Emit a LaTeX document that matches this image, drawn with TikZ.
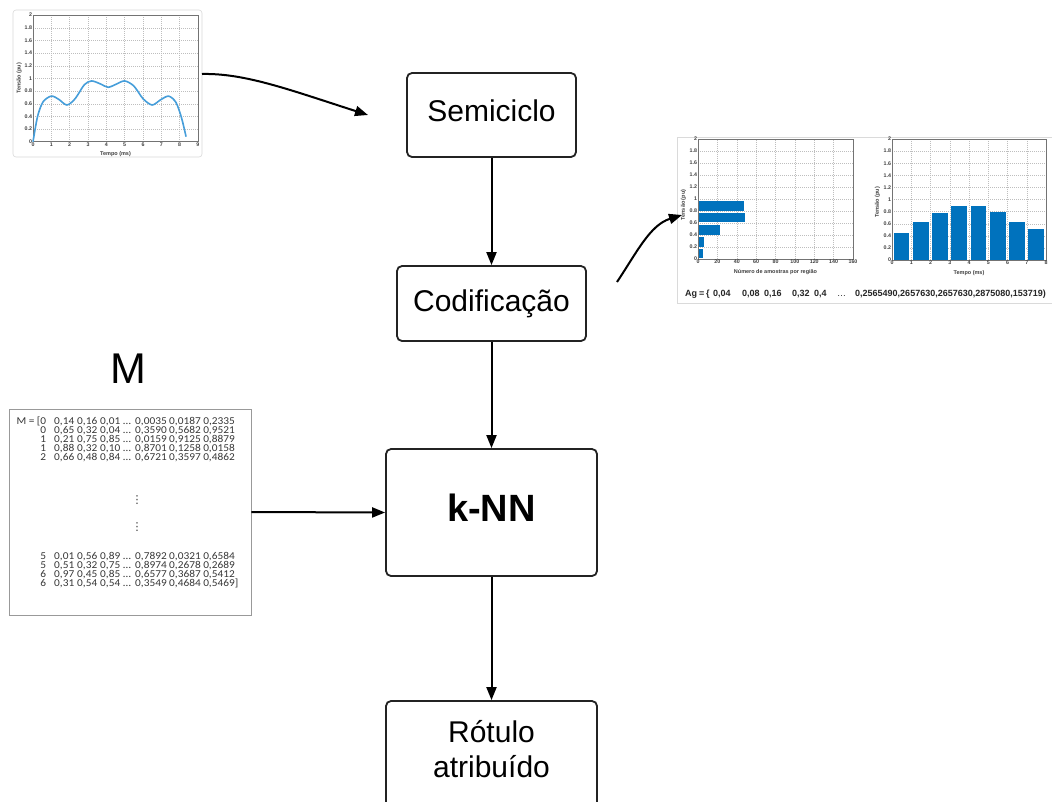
\documentclass[tikz,border=0pt]{standalone}
\usepackage{fontspec}
\setmainfont{Liberation Sans}
\newfontfamily\calib[FakeStretch=1.08]{Carlito}
\newfontfamily\djv{DejaVu Sans}
\usetikzlibrary{arrows.meta}
\definecolor{mblue}{RGB}{0,114,189}
\definecolor{lblue}{RGB}{70,158,218}
\definecolor{boxline}{RGB}{35,35,35}
\definecolor{framegray}{RGB}{218,218,218}
\definecolor{gridgray}{RGB}{190,190,190}
\definecolor{mtext}{RGB}{55,55,55}
\newcommand\matrow[7]{\makebox[0pt][r]{#1}\hspace{8pt}\makebox[23pt][l]{#2}\makebox[23pt][l]{#3}\makebox[23pt][l]{#4}\makebox[12pt][l]{\ldots}\makebox[34pt][l]{#5}\makebox[34pt][l]{#6}#7}
\begin{document}
\begin{tikzpicture}[x=1pt,y=-1pt,
  flowbox/.style={draw=boxline, line width=1.8pt, rounded corners=5pt, inner sep=0pt, font=\fontsize{30}{35}\selectfont},
  conn/.style={draw=black, line width=2pt, -{Triangle[length=13pt,width=10pt]}},
  gridln/.style={draw=gridgray, line width=0.35pt, dash pattern=on 1pt off 1pt},
  axframe/.style={draw=black!55, line width=0.5pt},
  tklab/.style={font=\fontsize{5.3}{6}\selectfont\bfseries, text=black!75, inner sep=0.8pt},
  axlab/.style={font=\fontsize{5.5}{6.5}\selectfont\bfseries, text=black!75, inner sep=0pt},
  frame/.style={draw=framegray, line width=0.6pt, inner sep=0pt},
  mrowst/.style={font=\calib\fontsize{10.5}{11}\selectfont, text=mtext, inner sep=0pt, anchor=base west}]
\useasboundingbox[fill=white] (0,0) rectangle (1052,801);

% ---------- top-left plot ----------
\node[frame, rounded corners=3pt, minimum width=189pt, minimum height=147pt] (plotA) at (107.5,83.5) {};
\begin{scope}[shift={(33pt,-141.7pt)}, x=18.33pt, y=63.3pt]
  \foreach \i in {1,...,8} \draw[gridln] (\i,0) -- (\i,2);
  \foreach \j in {0.2,0.4,0.6,0.8,1.0,1.2,1.4,1.6,1.8} \draw[gridln] (0,\j) -- (9,\j);
  \draw[axframe] (0,0) rectangle (9,2);
  \foreach \i in {0,...,9} \node[tklab, anchor=north] (pAx\i) at (\i,0) {\i};
  \foreach \v/\t [count=\k] in {0/0,0.2/0.2,0.4/0.4,0.6/0.6,0.8/0.8,1/1,1.2/1.2,1.4/1.4,1.6/1.6,1.8/1.8,2/2}
    \node[tklab, anchor=east] (pAy\k) at (0,\v) {\t};
  \node[axlab, rotate=90] (pAyl) at (-0.75,1) {Tensão (pu)};
  \node[axlab] (pAxl) at (4.5,-0.2) {Tempo (ms)};
  \draw[lblue, line width=1.6pt] plot[smooth] coordinates {(0,0.0) (0.25,0.4) (0.55,0.63) (1.0,0.72) (1.4,0.67) (1.85,0.58) (2.3,0.68) (2.8,0.9) (3.2,0.96) (3.7,0.91) (4.1,0.86) (4.55,0.91) (5.0,0.96) (5.5,0.88) (6.0,0.68) (6.5,0.58) (6.95,0.66) (7.4,0.72) (7.8,0.62) (8.1,0.38) (8.35,0.08)};
\end{scope}

% ---------- right plots ----------
\node[frame, minimum width=375pt, minimum height=166pt] (plotsBC) at (864.5,220) {};
\begin{scope}[shift={(698pt,-259pt)}, x=0.96875pt, y=60pt]
  \foreach \i in {20,40,...,140} \draw[gridln] (\i,0) -- (\i,2);
  \foreach \j in {0.2,0.4,0.6,0.8,1.0,1.2,1.4,1.6,1.8} \draw[gridln] (0,\j) -- (160,\j);
  \fill[mblue] (0,0.01) rectangle (5,0.17);
  \fill[mblue] (0,0.20) rectangle (6,0.36);
  \fill[mblue] (0,0.40) rectangle (22.7,0.57);
  \fill[mblue] (0,0.61) rectangle (48,0.76);
  \fill[mblue] (0,0.80) rectangle (47.5,0.97);
  \draw[axframe] (0,0) rectangle (160,2);
  \foreach \i in {0,20,...,160} \node[tklab, anchor=north] (pBx\i) at (\i,0) {\i};
  \foreach \v/\t [count=\k] in {0/0,0.2/0.2,0.4/0.4,0.6/0.6,0.8/0.8,1/1,1.2/1.2,1.4/1.4,1.6/1.6,1.8/1.8,2/2}
    \node[tklab, anchor=east] (pBy\k) at (0,\v) {\t};
  \node[axlab, rotate=90] (pByl) at (-15,0.9) {Tensão (pu)};
  \node[axlab] (pBxl) at (80,-0.22) {Número de amostras por região};
\end{scope}
\begin{scope}[shift={(892pt,-260pt)}, x=19.25pt, y=60.5pt]
  \foreach \i in {1,...,7} \draw[gridln] (\i,0) -- (\i,2);
  \foreach \j in {0.2,0.4,0.6,0.8,1.0,1.2,1.4,1.6,1.8} \draw[gridln] (0,\j) -- (8,\j);
  \foreach \h [count=\k from 0] in {0.45,0.63,0.77,0.90,0.90,0.80,0.62,0.51}
    \fill[mblue] (\k+0.08,0) rectangle (\k+0.9,\h);
  \draw[axframe] (0,0) rectangle (8,2);
  \foreach \i in {0,...,8} \node[tklab, anchor=north] (pCx\i) at (\i,0) {\i};
  \foreach \v/\t [count=\k] in {0/0,0.2/0.2,0.4/0.4,0.6/0.6,0.8/0.8,1/1,1.2/1.2,1.4/1.4,1.6/1.6,1.8/1.8,2/2}
    \node[tklab, anchor=east] (pCy\k) at (0,\v) {\t};
  \node[axlab, rotate=90] (pCyl) at (-0.75,0.95) {Tensão (pu)};
  \node[axlab] (pCxl) at (4,-0.22) {Tempo (ms)};
\end{scope}
\node[anchor=west, inner sep=0pt, text=black!85, font=\fontsize{9}{11}\selectfont\bfseries] (ag) at (685,294)
  {\makebox[14pt][l]{Ag}\makebox[7pt][l]{=}\makebox[7pt][l]{\{}\makebox[29pt][l]{0,04}\makebox[22pt][l]{0,08}\makebox[28pt][l]{0,16}\makebox[22pt][l]{0,32}\makebox[23pt][l]{0,4}\makebox[18pt][l]{\mdseries\ldots}0,2565490,2657630,2657630,2875080,153719)};

% ---------- flow boxes ----------
\node[flowbox, minimum width=169pt, minimum height=84pt, text depth=8pt] (semi) at (491.5,115) {Semiciclo};
\node[flowbox, minimum width=189pt, minimum height=75pt] (cod) at (491.5,303.5) {Codificação};
\node[flowbox, minimum width=211pt, minimum height=127pt, text depth=10.5pt, font=\fontsize{38}{42}\selectfont\bfseries] (knn) at (491.5,512.5) {k-NN};
\node[flowbox, minimum width=211pt, minimum height=120pt] (rot) at (491.5,761)
  {\raisebox{1.5pt}[0pt][0pt]{\begin{tabular}[c]{@{}c@{}}Rótulo\\atribuído\end{tabular}}};

% ---------- matrix ----------
\node[font=\fontsize{43}{48}\selectfont] (Mlab) at (128,369) {M};
\node[draw=black!40, line width=0.8pt, inner sep=0pt, minimum width=242pt, minimum height=206pt] (mbox) at (130,512) {};
\node[mrowst] (mr1) at (46,424.5) {\matrow{M = [0}{0,14}{0,16}{0,01}{0,0035}{0,0187}{0,2335}};
\node[mrowst] (mr2) at (46,433.5) {\matrow{0}{0,65}{0,32}{0,04}{0,3590}{0,5682}{0,9521}};
\node[mrowst] (mr3) at (46,442.5) {\matrow{1}{0,21}{0,75}{0,85}{0,0159}{0,9125}{0,8879}};
\node[mrowst] (mr4) at (46,451.5) {\matrow{1}{0,88}{0,32}{0,10}{0,8701}{0,1258}{0,0158}};
\node[mrowst] (mr5) at (46,460.5) {\matrow{2}{0,66}{0,48}{0,84}{0,6721}{0,3597}{0,4862}};
\node[text=mtext, inner sep=0pt, font=\djv\fontsize{11}{11}\selectfont] (vd1) at (137,500) {⋮};
\node[text=mtext, inner sep=0pt, font=\djv\fontsize{11}{11}\selectfont] (vd2) at (137,527) {⋮};
\node[mrowst] (mr6) at (46,559.5) {\matrow{5}{0,01}{0,56}{0,89}{0,7892}{0,0321}{0,6584}};
\node[mrowst] (mr7) at (46,568.5) {\matrow{5}{0,51}{0,32}{0,75}{0,8974}{0,2678}{0,2689}};
\node[mrowst] (mr8) at (46,577.5) {\matrow{6}{0,97}{0,45}{0,85}{0,6577}{0,3687}{0,5412}};
\node[mrowst] (mr9) at (46,586.5) {\matrow{6}{0,31}{0,54}{0,54}{0,3549}{0,4684}{0,5469]}};

% ---------- connectors ----------
\coordinate (a0) at (202,74);
\coordinate (a1) at (368,115);
\coordinate (b0) at (617,282);
\coordinate (b1) at (682,215);
\draw[conn] (a0) .. controls (245,73) and (290,90) .. (a1);
\draw[conn] (b0) .. controls (637,252) and (650,225) .. (b1);
\draw[conn] (semi.south) -- (cod.north);
\draw[conn] (cod.south) -- (knn.north);
\draw[conn] (knn.south) -- (rot.north);
\draw[conn] (mbox.east) -- (knn.west);
\end{tikzpicture}
\end{document}
